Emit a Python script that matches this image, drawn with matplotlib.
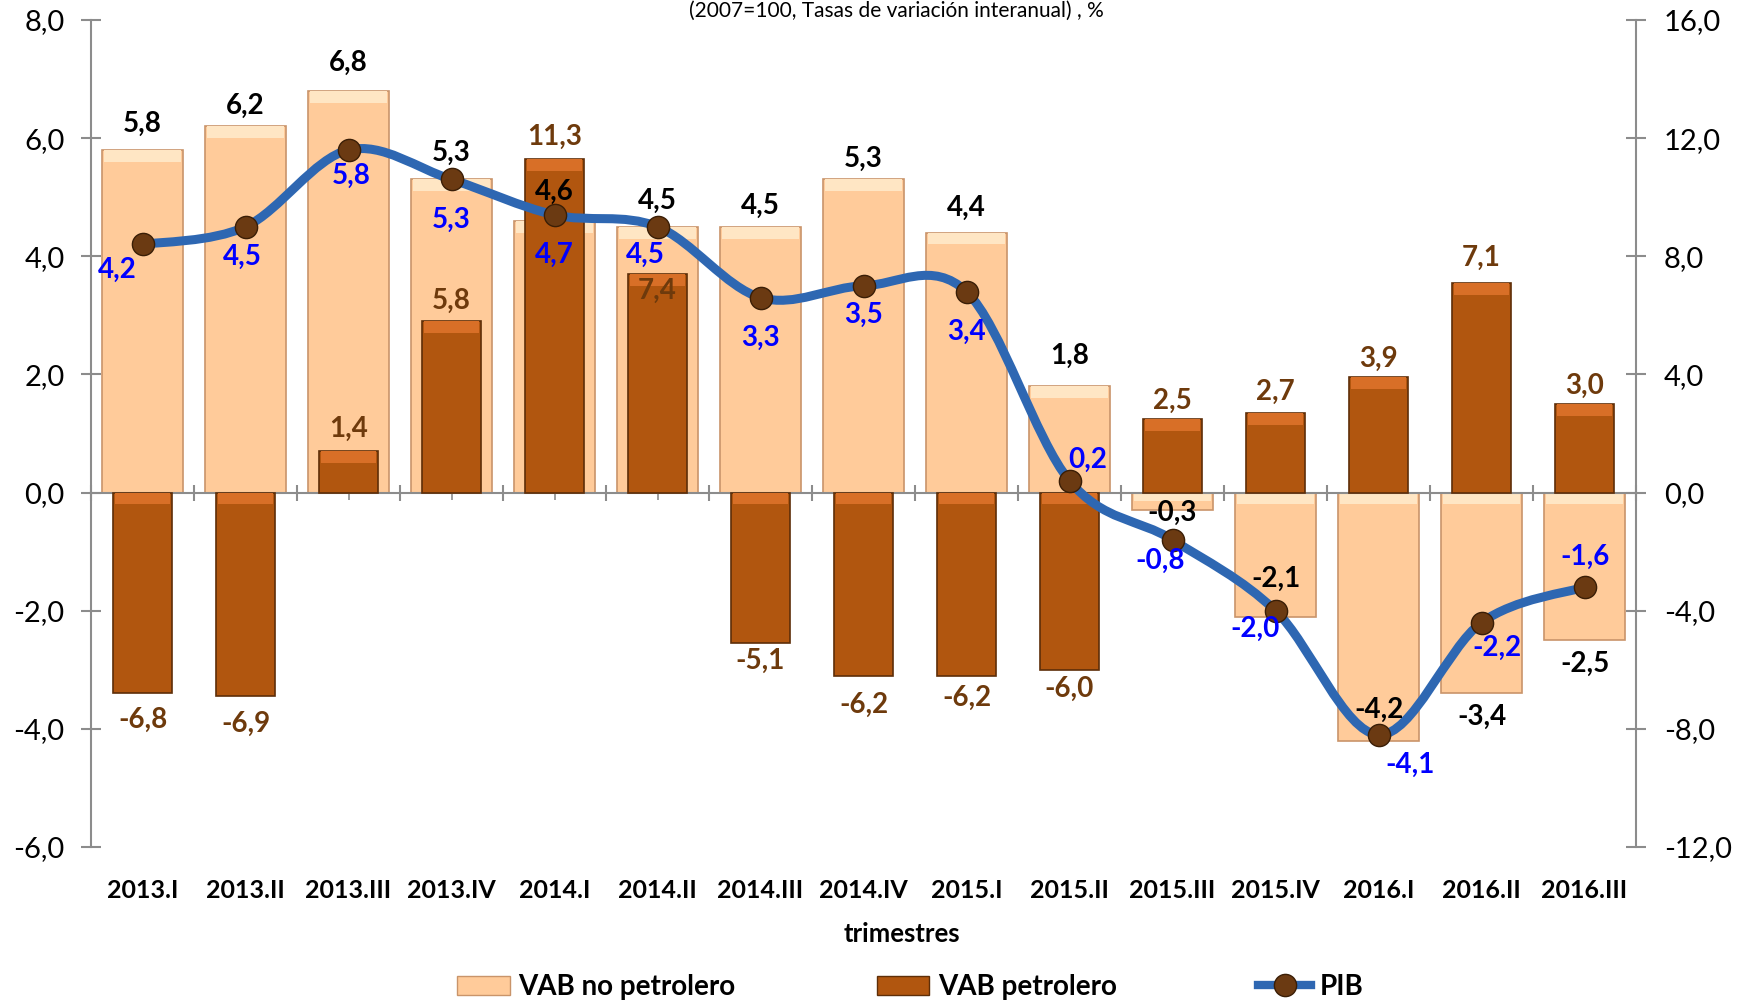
import numpy as np
import matplotlib
matplotlib.use("Agg")
from matplotlib import pyplot as plt
from matplotlib.path import Path
from matplotlib.patches import PathPatch, Patch
from matplotlib.lines import Line2D
from matplotlib.ticker import FuncFormatter, MultipleLocator

plt.rcParams["font.family"] = ["Lato", "DejaVu Sans"]

quarters = ["2013.I", "2013.II", "2013.III", "2013.IV", "2014.I", "2014.II", "2014.III",
            "2014.IV", "2015.I", "2015.II", "2015.III", "2015.IV", "2016.I", "2016.II", "2016.III"]
vab_no_petrolero = [5.8, 6.2, 6.8, 5.3, 4.6, 4.5, 4.5, 5.3, 4.4, 1.8, -0.3, -2.1, -4.2, -3.4, -2.5]
vab_petrolero = [-6.8, -6.9, 1.4, 5.8, 11.3, 7.4, -5.1, -6.2, -6.2, -6.0, 2.5, 2.7, 3.9, 7.1, 3.0]
pib = [4.2, 4.5, 5.8, 5.3, 4.7, 4.5, 3.3, 3.5, 3.4, 0.2, -0.8, -2.0, -4.1, -2.2, -1.6]

# label offsets (points)
nopet_dy = [19, 15, 20, 19, 21, 19, 15, 15, 18, 22, -2, 27, 22, -17, -17]
pet_dy = [-19, -20, 16, 15, 16, -12, -13, -21, -16, -14, 13, 15, 13, 18, 13]
pib_off = [(-18, -18), (-2, -22), (2, -19), (0, -29), (0, -29), (-9, -20), (0, -29), (0, -21),
           (0, -29), (13, 15), (-9, -15), (-15, -13), (23, -22), (11, -18), (0, 22)]

PEACH = "#FFCB9A"
PEACH_EDGE = "#C9946A"
PEACH_HI = "#FFE6C4"
BROWN = "#B1560F"
BROWN_EDGE = "#5E2E08"
BROWN_HI = "#D86F27"
BLUE = "#2E67B2"
GREY = "#8C8C8C"


def fmt(v):
    return f"{v:.1f}".replace(".", ",")


x = np.arange(len(quarters))

fig = plt.figure(figsize=(17.5, 10.01), dpi=100)
ax = fig.add_axes([91 / 1750, 1 - 847 / 1001, (1636 - 91) / 1750, (847 - 20) / 1001])
ax2 = ax.twinx()
ax3 = ax.twinx()

ax.set_xlim(-0.5, len(quarters) - 0.5)
ax.set_ylim(-6, 8)
ax2.set_ylim(-12, 16)
ax3.set_ylim(-6, 8)
ax3.axis("off")

# bars
nop = np.array(vab_no_petrolero)
pet = np.array(vab_petrolero)
ax.bar(x, nop, width=0.78, color=PEACH, edgecolor=PEACH_EDGE, linewidth=1.2, zorder=2)
hi1 = np.minimum(0.2, np.abs(nop) * 0.5)
ax.bar(x, hi1, bottom=np.maximum(nop, 0) - hi1, width=0.74, color=PEACH_HI, linewidth=0, zorder=3)
ax2.bar(x, pet, width=0.57, color=BROWN, edgecolor=BROWN_EDGE, linewidth=1.2, zorder=2)
hi2 = np.minimum(0.4, np.abs(pet) * 0.5)
ax2.bar(x, hi2, bottom=np.maximum(pet, 0) - hi2, width=0.53, color=BROWN_HI, linewidth=0, zorder=3)

# smoothed PIB line (Excel-style bezier through the points)
P = np.column_stack([x, pib]).astype(float)
verts = [P[0]]
codes = [Path.MOVETO]
n = len(P)
for i in range(n - 1):
    p0 = P[i - 1] if i > 0 else P[i]
    p3 = P[i + 2] if i + 2 < n else P[i + 1]
    c1 = P[i] + (P[i + 1] - p0) / 6
    c2 = P[i + 1] - (p3 - P[i]) / 6
    verts += [c1, c2, P[i + 1]]
    codes += [Path.CURVE4] * 3
ax3.add_patch(PathPatch(Path(verts, codes), facecolor="none", edgecolor=BLUE, lw=6.5,
                        capstyle="round", joinstyle="round", zorder=4))
ax3.plot(x, pib, "o", ms=16, mfc="#6B3A12", mec="#3A1E06", mew=1, zorder=5)

# labels
for i in range(len(x)):
    ax3.annotate(fmt(nop[i]), (x[i], nop[i]), xycoords=ax.transData, textcoords="offset points",
                 xytext=(0, nopet_dy[i]), ha="center", va="center",
                 fontsize=20, fontweight="bold", color="black", zorder=6)
    ax3.annotate(fmt(pet[i]), (x[i], pet[i]), xycoords=ax2.transData, textcoords="offset points",
                 xytext=(0, pet_dy[i]), ha="center", va="center",
                 fontsize=20, fontweight="bold", color="#6E3A0C", zorder=6)
    ax3.annotate(fmt(pib[i]), (x[i], pib[i]), textcoords="offset points",
                 xytext=pib_off[i], ha="center", va="center",
                 fontsize=20, fontweight="bold", color="#0000FF", zorder=6)

# axes styling
for a in (ax, ax2):
    a.spines["top"].set_visible(False)
    for s in ("left", "right", "bottom"):
        a.spines[s].set_color(GREY)
        a.spines[s].set_linewidth(1.5)
ax2.spines["bottom"].set_visible(False)
ax2.spines["left"].set_visible(False)
ax.spines["right"].set_visible(False)
ax.spines["bottom"].set_position(("data", 0))
ax.spines["bottom"].set_zorder(3.5)

ax.yaxis.set_major_locator(MultipleLocator(2))
ax2.yaxis.set_major_locator(MultipleLocator(4))
ax.yaxis.set_major_formatter(FuncFormatter(lambda v, p: fmt(v)))
ax2.yaxis.set_major_formatter(FuncFormatter(lambda v, p: fmt(v)))
ax.tick_params(axis="y", direction="inout", length=14, width=1.5, color=GREY, labelsize=21, pad=12)
ax2.tick_params(axis="y", direction="inout", length=14, width=1.5, color=GREY, labelsize=21, pad=13)

ax.set_xticks(np.arange(-0.5, len(quarters), 1))
ax.set_xticks(x, minor=True)
ax.tick_params(axis="x", which="major", direction="inout", length=12, width=1.5, color=GREY,
               labelbottom=False)
ax.tick_params(axis="x", which="minor", direction="out", length=5, width=1.2, color=GREY,
               labelbottom=False)

for i, q in enumerate(quarters):
    ax.text(x[i], -0.053, q, transform=ax.get_xaxis_transform(), ha="center", va="center",
            fontsize=18, fontweight="bold")
ax.text(0.525, -0.105, "trimestres", transform=ax.transAxes, ha="center", va="center",
        fontsize=18.5, fontweight="bold")

fig.text(0.512, 0.999, "(2007=100, Tasas de variación interanual) , %", ha="center",
         va="top", fontsize=15)

handles = [
    Patch(facecolor=PEACH, edgecolor=PEACH_EDGE),
    Patch(facecolor=BROWN, edgecolor=BROWN_EDGE),
    Line2D([], [], color=BLUE, lw=6, marker="o", ms=16, mfc="#6B3A12", mec="#3A1E06"),
]
fig.legend(handles, ["VAB no petrolero", "VAB petrolero", "PIB"], loc="center",
           bbox_to_anchor=(0.52, 0.014), ncol=3, frameon=False,
           prop={"size": 20, "weight": "bold"}, handlelength=1.9, handletextpad=0.3,
           columnspacing=5.1)

fig.savefig("out.png", dpi=100)
